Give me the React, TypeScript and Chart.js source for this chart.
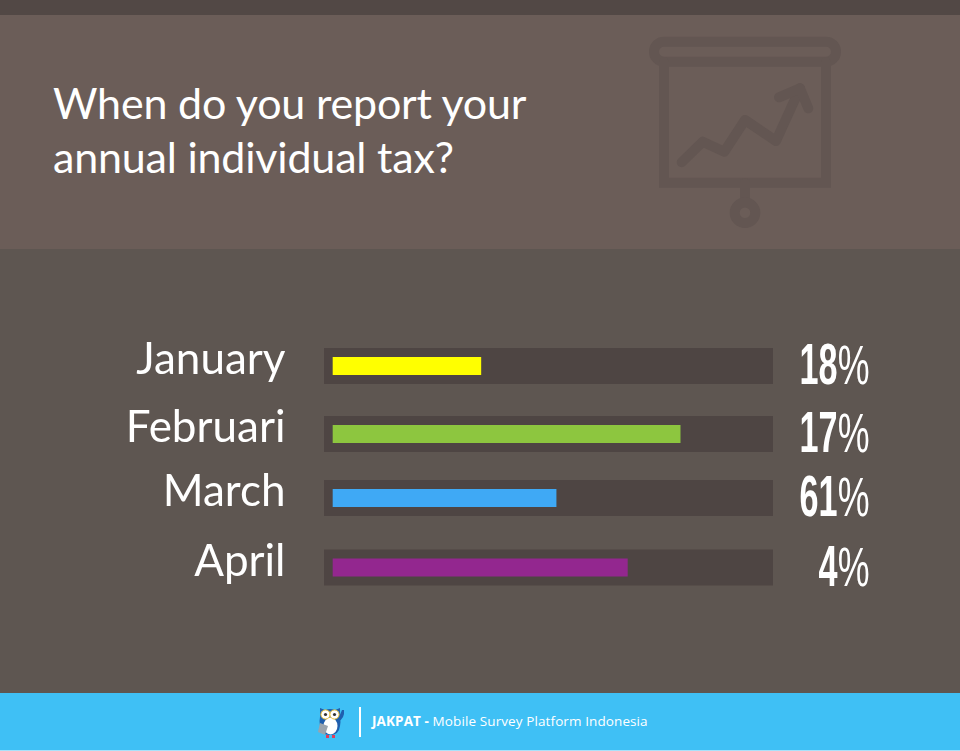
import React, { useEffect, useRef } from "react";
import { Chart, registerables } from "chart.js";

Chart.register(...registerables);

const titleLines = ["When do you report your", "annual individual tax?"];
const categories = ["January", "Februari", "March", "April"];
// Drawn lengths (share of the track).
const barLengths = [33.6, 78.9, 50.7, 66.9];
// Printed labels, which differ from the drawn lengths in the source.
const printedPercents = ["18%", "17%", "61%", "4%"];
const barColors = ["#ffff00", "#8dc63f", "#3fa9f5", "#93278f"];
const footerBrand = "JAKPAT -";
const footerText = " Mobile Survey Platform Indonesia";

const axisMin = -2.05;
const axisMax = 100;
const rowNudge = [0, 1, -2, 0.5];

const percentPlugin = {
  id: "percentLabels",
  afterDatasetsDraw(chart: any) {
    const { ctx, scales } = chart;
    const rightEdge = 869.5;
    printedPercents.forEach((label, i) => {
      const y = scales.y.getPixelForValue(i, i) + 18;
      const digits = label.slice(0, -1);
      const drawPart = (text: string, font: string, sx: number, x: number) => {
        ctx.save();
        ctx.translate(x, y);
        ctx.scale(sx, 1);
        ctx.font = font;
        ctx.fillStyle = "#ffffff";
        ctx.textAlign = "right";
        ctx.textBaseline = "alphabetic";
        ctx.fillText(text, 0, 0);
        ctx.restore();
      };
      drawPart("%", '400 56px "Liberation Sans"', 0.64, rightEdge);
      drawPart(digits, '700 57px "Liberation Sans"', 0.6, rightEdge - 32);
    });
  },
};

function ScreenIcon() {
  const c = "#635652";
  return (
    <svg width="960" height="751" style={{ position: "absolute", left: 0, top: 0 }}>
      <g fill="none" stroke={c} strokeWidth="10" strokeLinecap="round" strokeLinejoin="round">
        <rect x="654" y="41.7" width="182" height="20" rx="10" />
        <path d="M664 62V182.7H826V62" strokeLinejoin="miter" />
        <path d="M745 183V200" />
        <circle cx="745" cy="212.7" r="10.3" />
        <path d="M681.7 162.3L702.7 141.7L724.3 151.7L745 120L776 141L800 88.3" />
        <path d="M779 97.3L800 88.3L808.3 108.3" />
      </g>
    </svg>
  );
}

function Owl() {
  return (
    <svg width="30" height="34" viewBox="0 0 30 34" style={{ position: "absolute", left: 317, top: 705 }}>
      <path d="M27 5q1 8-6 12l-1-3q3-3 5-9z" fill="#1f5fae" />
      <path d="M3 3l5 2q5-2 10 0l5-2v10q1 4 0 8q-1 9-10 9q-9 0-10-9q-1-5 0-9z" fill="#1f5fae" />
      <ellipse cx="13.5" cy="21" rx="7" ry="8.5" fill="#ffffff" />
      <circle cx="8.5" cy="9.5" r="4.6" fill="#fff" stroke="#f2c230" strokeWidth="1" />
      <circle cx="17.5" cy="9.5" r="4.6" fill="#fff" stroke="#f2c230" strokeWidth="1" />
      <circle cx="8.5" cy="9.5" r="1.6" fill="#333" />
      <circle cx="17.5" cy="9.5" r="1.6" fill="#333" />
      <path d="M3 18l8 3l-3 9l-7-3z" fill="#9aa3ad" />
      <rect x="9" y="30" width="3" height="3" fill="#e23c5a" />
      <rect x="15" y="30" width="3" height="3" fill="#e23c5a" />
    </svg>
  );
}

export default function App() {
  const canvasRef = useRef<HTMLCanvasElement | null>(null);

  useEffect(() => {
    const chart = new Chart(canvasRef.current as HTMLCanvasElement, {
      type: "bar",
      data: {
        labels: categories,
        datasets: [
          {
            data: barLengths,
            backgroundColor: barColors,
            barThickness: 17.5,
            order: 1,
          },
          {
            data: categories.map(() => [axisMin, axisMax]),
            backgroundColor: "#4e4543",
            barThickness: 35.5,
            order: 2,
          },
        ] as any,
      },
      options: {
        indexAxis: "y",
        responsive: false,
        animation: false,
        devicePixelRatio: 1,
        layout: { padding: { left: 0, right: 187, top: 332.5, bottom: 150.5 } },
        plugins: { legend: { display: false }, tooltip: { enabled: false } },
        datasets: { bar: { grouped: false } },
        scales: {
          x: { display: false, min: axisMin, max: axisMax },
          y: {
            afterFit: (s: any) => {
              s.width = 324;
            },
            afterBuildTicks: (s: any) => {
              const proto = Object.getPrototypeOf(s).getPixelForValue;
              s.getPixelForValue = function (v: any, i: any) {
                const idx = typeof v === "number" ? v : i;
                return proto.call(s, v, i) + (rowNudge[idx] || 0);
              };
            },
            border: { display: false },
            grid: { display: false, drawTicks: false },
            ticks: {
              color: "#ffffff",
              padding: 38.5,
              labelOffset: -6,
              font: { family: "Lato", size: 44, weight: "400" },
            },
          },
        },
      } as any,
      plugins: [percentPlugin],
    });
    return () => chart.destroy();
  }, []);

  return (
    <div style={{ position: "absolute", left: 0, top: 0, width: 960, height: 751, overflow: "hidden", background: "#5e5651" }}>
      <div style={{ position: "absolute", left: 0, top: 0, width: 960, height: 15, background: "#524845" }} />
      <div style={{ position: "absolute", left: 0, top: 15, width: 960, height: 234, background: "#6b5d58" }} />
      <ScreenIcon />
      <div
        style={{
          position: "absolute",
          left: 53,
          top: 76,
          color: "#ffffff",
          fontFamily: "Lato",
          fontSize: 43,
          letterSpacing: -0.2,
          lineHeight: "54px",
          whiteSpace: "nowrap",
        }}
      >
        {titleLines.map((t) => (
          <div key={t}>{t}</div>
        ))}
      </div>
      <canvas ref={canvasRef} width={960} height={751} style={{ position: "absolute", left: 0, top: 0, display: "block" }} />
      <div style={{ position: "absolute", left: 0, top: 693, width: 960, height: 57, background: "#3fc0f5" }} />
      <div style={{ position: "absolute", left: 0, top: 750, width: 960, height: 1, background: "#a8e2fa" }} />
      <Owl />
      <div style={{ position: "absolute", left: 359, top: 707, width: 2, height: 30, background: "#ffffff" }} />
      <div
        style={{
          position: "absolute",
          left: 372,
          top: 713,
          color: "#ffffff",
          fontFamily: "Open Sans",
          fontSize: 13.5,
          letterSpacing: 0.1,
          lineHeight: "17px",
          whiteSpace: "pre",
        }}
      >
        <b>{footerBrand}</b>
        {footerText}
      </div>
    </div>
  );
}
